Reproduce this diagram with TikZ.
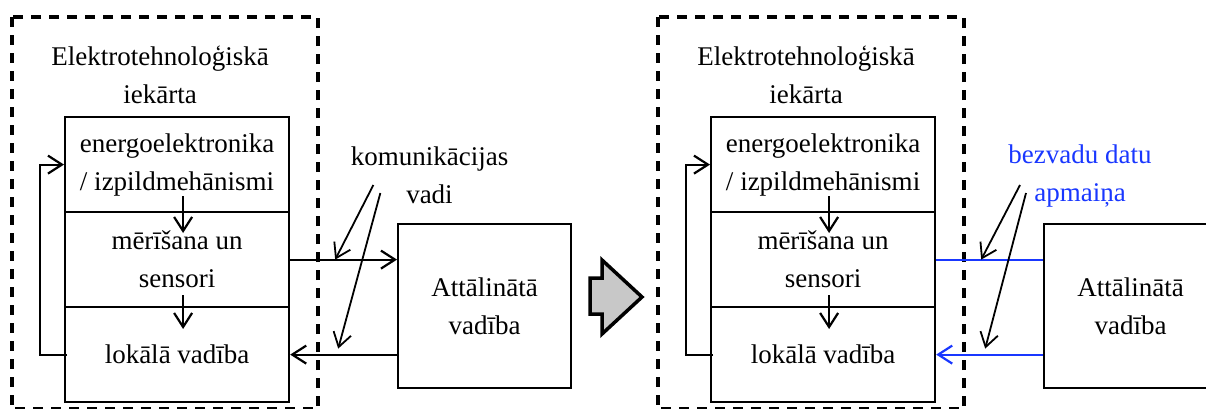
\documentclass[tikz,border=0pt]{standalone}
\usepackage{fontspec}
\setmainfont{Liberation Serif}
\usetikzlibrary{arrows.meta,calc}
\definecolor{wireless}{RGB}{25,55,255}
\definecolor{shiftgray}{RGB}{200,200,200}
\tikzset{
  plantframe/.style={line width=2.3pt, dash pattern=on 5pt off 4pt},
  stage/.style={draw, line width=1.1pt, anchor=north west, minimum width=112pt, minimum height=47.5pt, align=center, inner sep=0pt},
  remotebox/.style={draw, line width=1.1pt, anchor=north west, minimum width=86.5pt, minimum height=82pt, align=center},
  notetext/.style={align=center, inner sep=0pt},
  link/.style={line width=1.1pt, -{Straight Barb[length=7pt,width=9pt]}},
  pointer/.style={line width=0.9pt, -{Straight Barb[length=7pt,width=9pt]}},
  radioline/.style={line width=1.1pt, wireless},
}
\begin{document}
\begin{tikzpicture}[x=0.5pt,y=-0.5pt, font=\fontsize{13.5}{19}\selectfont, line join=miter]
\useasboundingbox (0,0) rectangle (1206,408);
\clip (0,0) rectangle (1206,408);
% wired variant
\draw[plantframe] (12,17) rectangle (318,409.6);
\node[notetext] (plant1) at (160,75) {Elektrotehnoloģiskā\\iekārta};
\node[stage] (power1) at (64,116) {energoelektronika\\/ izpildmehānismi};
\node[stage] (meas1) at (64,211) {mērīšana un\\sensori};
\node[stage] (local1) at (64,306) {lokālā vadība};
\node[remotebox] (remote1) at (397,223) {Attālinātā\\vadība};
\draw[link] ($(power1.south)+(6,-17)$) -- ($(meas1.north)+(6,22)$);
\draw[link] ($(meas1.south)+(6,-13)$) -- ($(local1.north)+(6,23)$);
\draw[link] ([xshift=1.5pt]local1.west) -- ++(-27,0) |- (power1.west);
\draw[link] (meas1.east) -- (meas1.east -| remote1.west);
\draw[link] (local1.east -| remote1.west) -- (local1.east);
\node[notetext] (wires) at (429.5,175) {komunikācijas\\vadi};
\draw[pointer] ($(wires.west)+(23,10)$) -- ($(meas1.east)+(45,0)$);
\draw[pointer] ($(wires.west)+(30,18)$) -- ($(local1.east)+(48,-6)$);
% transition
\draw[line width=1.75pt, fill=shiftgray] (590,278) -- (602,278) -- (602,260) -- (642,297)
  -- (602,334) -- (602,314) -- (590,314) -- cycle;
% wireless variant
\draw[plantframe] (658,17) rectangle (964,409.6);
\node[notetext] (plant2) at (806,75) {Elektrotehnoloģiskā\\iekārta};
\node[stage] (power2) at (710,116) {energoelektronika\\/ izpildmehānismi};
\node[stage] (meas2) at (710,211) {mērīšana un\\sensori};
\node[stage] (local2) at (710,306) {lokālā vadība};
\node[remotebox] (remote2) at (1043,223) {Attālinātā\\vadība};
\draw[link] ($(power2.south)+(6,-17)$) -- ($(meas2.north)+(6,22)$);
\draw[link] ($(meas2.south)+(6,-13)$) -- ($(local2.north)+(6,23)$);
\draw[link] ([xshift=1.5pt]local2.west) -- ++(-27,0) |- (power2.west);
\draw[radioline] (meas2.east) -- (meas2.east -| remote2.west);
\draw[radioline, link] (local2.east -| remote2.west) -- (local2.east);
\node[notetext, text=wireless] (radio) at (1080,176) {bezvadu datu\\apmaiņa};
\draw[pointer] ($(radio.west)+(12,9)$) -- ($(meas2.east)+(45,0)$);
\draw[pointer] ($(radio.west)+(18,17)$) -- ($(local2.east)+(49,-6)$);
\end{tikzpicture}
\end{document}
